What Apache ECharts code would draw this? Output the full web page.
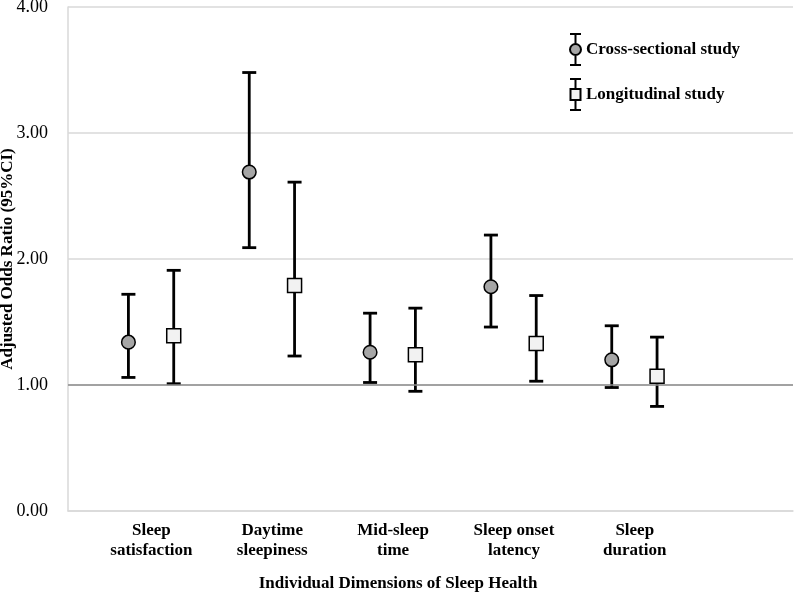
<!DOCTYPE html>
<html>
<head>
<meta charset="utf-8">
<script src="https://cdn.jsdelivr.net/npm/echarts@6/dist/echarts.min.js"></script>
<style>html,body{margin:0;padding:0;background:#fff;}#c{width:795px;height:593px;}</style>
</head>
<body>
<div id="c"></div>
<script>
const categories = ['Sleep\nsatisfaction', 'Daytime\nsleepiness', 'Mid-sleep\ntime', 'Sleep onset\nlatency', 'Sleep\nduration', ''];
const yTicks = [0, 1, 2, 3, 4];
const crossOR = [1.34, 2.69, 1.26, 1.78, 1.20];
const crossLo = [1.06, 2.09, 1.02, 1.46, 0.98];
const crossHi = [1.72, 3.48, 1.57, 2.19, 1.47];
const longOR = [1.39, 1.79, 1.24, 1.33, 1.07];
const longLo = [1.01, 1.23, 0.95, 1.03, 0.83];
const longHi = [1.91, 2.61, 1.61, 1.71, 1.38];

const FONT = '"Liberation Serif", "Times New Roman", serif';

function build(or, lo, hi) {
  return or.map((v, i) => [i, v, lo[i], hi[i]]);
}

function makeRender(shape, frac) {
  return function (params, api) {
    const idx = api.value(0);
    const band = api.size([1, 0])[0];
    const off = band * frac;
    const c = api.coord([idx, api.value(1)]);
    const l = api.coord([idx, api.value(2)]);
    const h = api.coord([idx, api.value(3)]);
    const x = c[0] + off;
    const cap = 7;
    const lineStyle = { stroke: '#000', lineWidth: 2.8 };
    const children = [
      { type: 'line', shape: { x1: x, y1: h[1], x2: x, y2: l[1] }, style: lineStyle },
      { type: 'line', shape: { x1: x - cap, y1: h[1], x2: x + cap, y2: h[1] }, style: lineStyle },
      { type: 'line', shape: { x1: x - cap, y1: l[1], x2: x + cap, y2: l[1] }, style: lineStyle }
    ];
    if (shape === 'circle') {
      children.push({ type: 'circle', shape: { cx: x, cy: c[1], r: 6.8 }, style: { fill: '#a6a6a6', stroke: '#000', lineWidth: 1.5 } });
    } else {
      children.push({ type: 'rect', shape: { x: x - 7, y: c[1] - 7, width: 14, height: 14 }, style: { fill: '#f2f2f2', stroke: '#000', lineWidth: 1.5 } });
    }
    return { type: 'group', children: children };
  };
}

const chart = echarts.init(document.getElementById('c'), null, { renderer: 'canvas' });
chart.setOption({
  animation: false,
  backgroundColor: '#fff',
  grid: { left: 68, right: 2, top: 7, bottom: 82, outerBoundsMode: 'none', containLabel: false },
  legend: {
    orient: 'vertical',
    left: 564,
    top: 28,
    itemWidth: 11,
    itemHeight: 31,
    itemGap: 12,
    textStyle: { fontFamily: FONT, fontWeight: 'bold', fontSize: 17, color: '#000' },
    data: [
      { name: 'Cross-sectional study',
        icon: 'path://M5.5,0 L5.5,10 M5.5,21 L5.5,31 M0,0 L11,0 M0,31 L11,31 M11,15.5 A5.5,5.5 0 1 1 0,15.5 A5.5,5.5 0 1 1 11,15.5 Z',
        itemStyle: { color: '#a6a6a6', borderColor: '#000', borderWidth: 2 } },
      { name: 'Longitudinal study',
        icon: 'path://M5.5,0 L5.5,10 M5.5,21 L5.5,31 M0,0 L11,0 M0,31 L11,31 M0.5,10 L10.5,10 L10.5,21 L0.5,21 Z',
        itemStyle: { color: '#f2f2f2', borderColor: '#000', borderWidth: 2 } }
    ]
  },
  xAxis: {
    type: 'category',
    data: categories,
    boundaryGap: true,
    axisLine: { show: true, lineStyle: { color: '#d9d9d9', width: 1.5 } },
    axisTick: { show: false },
    axisLabel: {
      fontFamily: FONT, fontWeight: 'bold', fontSize: 17, color: '#000',
      lineHeight: 20, margin: 10, padding: [0, 0, 0, 46], interval: 0
    },
    name: 'Individual Dimensions of Sleep Health',
    nameLocation: 'middle',
    nameGap: 64,
    nameMoveOverlap: false,
    nameTextStyle: { fontFamily: FONT, fontWeight: 'bold', fontSize: 17, color: '#000', padding: [0, 65, 0, 0] },
    splitLine: { show: false }
  },
  yAxis: {
    type: 'value',
    min: yTicks[0],
    max: yTicks[yTicks.length - 1],
    interval: 1,
    axisLine: { show: true, lineStyle: { color: '#d9d9d9', width: 1.5 } },
    axisTick: { show: false },
    axisLabel: { fontFamily: FONT, fontSize: 18, color: '#000', margin: 20, formatter: v => v.toFixed(2) },
    splitLine: { show: true, lineStyle: { color: '#d9d9d9', width: 1.5 } },
    name: 'Adjusted Odds Ratio (95%CI)',
    nameLocation: 'middle',
    nameGap: 52,
    nameMoveOverlap: false,
    nameTextStyle: { fontFamily: FONT, fontWeight: 'bold', fontSize: 17, color: '#000' }
  },
  series: [
    {
      name: 'Cross-sectional study',
      type: 'custom',
      renderItem: makeRender('circle', 0),
      encode: { x: 0, y: [1, 2, 3] },
      itemStyle: { color: '#a6a6a6', borderColor: '#000' },
      data: build(crossOR, crossLo, crossHi),
      z: 3,
      markLine: {
        silent: true, symbol: 'none', label: { show: false },
        lineStyle: { color: '#8c8c8c', width: 1.5, type: 'solid' },
        data: [{ yAxis: 1 }]
      }
    },
    {
      name: 'Longitudinal study',
      type: 'custom',
      renderItem: makeRender('square', 0.375),
      encode: { x: 0, y: [1, 2, 3] },
      itemStyle: { color: '#f2f2f2', borderColor: '#000' },
      data: build(longOR, longLo, longHi),
      z: 3
    }
  ]
});
</script>
</body>
</html>
